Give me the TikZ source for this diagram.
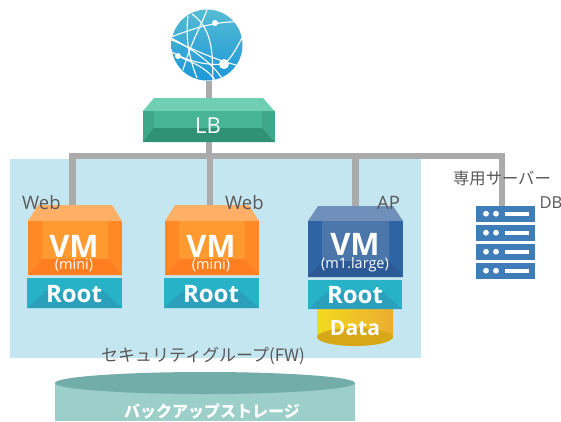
\documentclass[tikz,border=0pt]{standalone}
\usepackage{fontspec}
\setmainfont{Noto Sans CJK JP}
\newfontfamily\lat{Open Sans}
\usetikzlibrary{calc}
\definecolor{regionblue}{HTML}{C4E6F0}
\definecolor{linkgrey}{HTML}{ABABAB}
\definecolor{labelgrey}{HTML}{595757}
\definecolor{rootmain}{HTML}{27B2C8}
\definecolor{rootdark}{HTML}{2BA0BC}
\definecolor{orangetop}{HTML}{FFB066}
\definecolor{orangeside}{HTML}{FF8A25}
\definecolor{orangeinner}{HTML}{FF9A30}
\definecolor{orangelow}{HTML}{FF7F20}
\definecolor{bluetop}{HTML}{6F90BB}
\definecolor{blueside}{HTML}{2E64A3}
\definecolor{blueinner}{HTML}{4B76AA}
\definecolor{bluelow}{HTML}{2D5A96}
\definecolor{backupbody}{HTML}{9CCFC9}
\definecolor{backuptop}{HTML}{72ADA9}
\definecolor{lbtop}{HTML}{6FCFB3}
\definecolor{lbside}{HTML}{3FA88A}
\definecolor{lbinner}{HTML}{48B596}
\definecolor{lblow}{HTML}{2F9373}
\definecolor{serverblue}{HTML}{3F7DB9}
\definecolor{datal}{HTML}{F3DA1E}
\definecolor{datar}{HTML}{ECAC30}
\definecolor{datab}{HTML}{D6A818}
\definecolor{globet}{HTML}{56BCD4}
\definecolor{globeb}{HTML}{1C98D8}
\pgfdeclarelayer{base}
\pgfdeclarelayer{links}
\pgfsetlayers{base,links,main}
\tikzset{
  link/.style={draw=linkgrey,line width=6.5pt},
  label/.style={text=labelgrey,font=\fontsize{16.3}{16.3}\selectfont,inner sep=0pt},
  latlabel/.style={text=labelgrey,font=\lat\fontsize{18.5}{18.5}\selectfont,inner sep=0pt,anchor=west},
  bigtext/.style={text=white,inner sep=0pt,font=\lat\bfseries\fontsize{31}{31}\selectfont},
  roottext/.style={text=white,inner sep=0pt,font=\lat\bfseries\fontsize{24}{24}\selectfont},
  subtext/.style={text=white,inner sep=0pt,font=\lat\fontsize{14.5}{14.5}\selectfont},
  globeline/.style={draw=white,line width=1.1pt},
}
\newcommand\vmshape[9]{% x0, x1, ytop, ybody, ybottom, top, side, inner, lower
  \fill[#6] ({#1+10},#3) -- ({#2-10},#3) -- (#2,#4) -- (#1,#4) -- cycle;
  \fill[#7] (#1,#4) rectangle (#2,#5);
  \fill[#8] ({#1+14},#4) rectangle ({#2-14},{#5-16});
  \fill[#9] (#1,#5) -- ({#1+14},{#5-16}) -- ({#2-14},{#5-16}) -- (#2,#5) -- cycle;
}
\newcommand\rootshape[4]{% x0, x1, ytop, ybottom
  \fill[rootmain] (#1,#3) rectangle (#2,#4);
  \fill[rootdark] (#1,#4) -- ({#1+19},{#4-17}) -- ({#2-19},{#4-17}) -- (#2,#4) -- cycle;
}
\begin{document}
\begin{tikzpicture}[x=1pt,y=-1pt]
\useasboundingbox (0,0) rectangle (561,421);
\clip (0,0) rectangle (561,421);
\begin{pgfonlayer}{base}
\fill[white] (0,0) rectangle (561,421);
\fill[regionblue] (10,159) rectangle (421,358);
\end{pgfonlayer}

% backup storage
\fill[backupbody] (55,383) rectangle (355,421);
\fill[backuptop] (205,383) ellipse [x radius=150,y radius=11];
\node[inner sep=0pt,text=white,font=\bfseries\fontsize{16}{16}\selectfont] (backup) at (212,411) {バックアップストレージ};

% globe
\begin{scope}
\clip (207,45) circle (35.5);
\shade[top color=globet,bottom color=globeb] (171,9) rectangle (243,81);
\draw[globeline] (171,37) .. controls (190,30) and (215,20) .. (245,22);
\draw[globeline] (171,38) .. controls (190,48) and (210,60) .. (224,81);
\draw[globeline] (172,52) .. controls (185,60) and (205,66) .. (224,64);
\draw[globeline] (224,64) .. controls (232,58) and (238,45) .. (243,36);
\draw[globeline] (183,70) .. controls (190,45) and (200,28) .. (207,10);
\draw[globeline] (188,16) .. controls (185,40) and (190,60) .. (197,78);
\draw[globeline] (192,14) .. controls (215,30) and (212,60) .. (213,80);
\draw[globeline] (172,40) .. controls (195,50) and (215,60) .. (240,66);
\draw[globeline] (178,56) .. controls (190,62) and (205,66) .. (215,80);
\fill[white] (215,23) circle (3);
\fill[white] (224,64) circle (5);
\fill[white] (178,56) circle (3);
\end{scope}
\node[circle,inner sep=0pt,minimum size=71pt] (globe) at (207,45) {};

% LB
\fill[lbtop] (154,98) -- (263,98) -- (274.5,111) -- (143,111) -- cycle;
\fill[lbside] (143,111) rectangle (274.5,142);
\fill[lbinner] (154,111) rectangle (262,128);
\fill[lblow] (143,142) -- (154,128) -- (262,128) -- (274.5,142) -- cycle;
\node[inner sep=0pt,minimum width=131.5pt,minimum height=44pt] (lb) at (208.75,120) {};
\node[text=white,inner sep=0pt,font=\lat\fontsize{22}{22}\selectfont] (lbtext) at (208,126) {LB};

% VMs
\vmshape{28}{122}{205}{221}{275}{orangetop}{orangeside}{orangeinner}{orangelow}
\rootshape{27}{122}{278}{308}
\node[inner sep=0pt,minimum width=94pt,minimum height=70pt] (vma) at (75,240) {};
\node[inner sep=0pt,minimum width=95pt,minimum height=30pt] (roota) at (74.5,293) {};
\node[bigtext] (vmatext) at (74,246) {VM};
\node[subtext] (vmasub) at (74,265) {(mini)};
\node[roottext] (rootatext) at (74,294) {Root};

\vmshape{165}{259}{205}{221}{275}{orangetop}{orangeside}{orangeinner}{orangelow}
\rootshape{164}{259}{278}{308}
\node[inner sep=0pt,minimum width=94pt,minimum height=70pt] (vmb) at (212,240) {};
\node[inner sep=0pt,minimum width=95pt,minimum height=30pt] (rootb) at (211.5,293) {};
\node[bigtext] (vmbtext) at (211,246) {VM};
\node[subtext] (vmbsub) at (211,265) {(mini)};
\node[roottext] (rootbtext) at (211,294) {Root};

% Data drum
\shade[left color=datal,right color=datar] (317,305) rectangle (393,337);
\fill[datab] (355,337) ellipse [x radius=38,y radius=9];
\node[inner sep=0pt,minimum width=76pt,minimum height=36pt] (datadrum) at (355,328) {};
\node[text=white,inner sep=0pt,font=\lat\bfseries\fontsize{21}{21}\selectfont] (datatext) at (355,328) {Data};

\vmshape{308}{403}{206}{221}{277}{bluetop}{blueside}{blueinner}{bluelow}
\rootshape{308}{402}{280}{309}
\node[inner sep=0pt,minimum width=95pt,minimum height=71pt] (vmc) at (355.5,241.5) {};
\node[inner sep=0pt,minimum width=94pt,minimum height=29pt] (rootc) at (355,294.5) {};
\node[bigtext] (vmctext) at (355,244) {VM};
\node[subtext] (vmcsub) at (355,265) {(m1.large)};
\node[roottext] (rootctext) at (355,295) {Root};

% server
\foreach \yt in {206,225,244,263}{
  \fill[serverblue] (476,\yt) rectangle (535,\yt+15.5);
  \fill[white] (486,\yt+7.7) circle (2.9);
  \fill[white] (496,\yt+7.7) circle (2.9);
  \fill[white] (505,\yt+5.7) rectangle (529,\yt+9.7);
}
\node[inner sep=0pt,minimum width=59pt,minimum height=72pt] (server) at (505.5,242) {};

% junctions
\coordinate (trunkl) at (72.5,156);
\coordinate (trunkr) at (502,156);
\coordinate (juncb) at (210,156);
\coordinate (juncc) at (355.5,156);
\coordinate (lbjunc) at (209,156);

\begin{pgfonlayer}{links}
\draw[link] (globe.south -| lbjunc) -- (lb.north -| lbjunc);
\draw[link] (lb.south -| lbjunc) -- (lbjunc);
\draw[link,line cap=rect] (trunkl) -- (trunkr);
\draw[link] (trunkl) -- (vma.north -| trunkl);
\draw[link] (juncb) -- (vmb.north -| juncb);
\draw[link] (juncc) -- (vmc.north -| juncc);
\draw[link] (trunkr) -- (server.north -| trunkr);
\end{pgfonlayer}

% labels
\node[latlabel] (weba) at (22,203) {Web};
\node[latlabel] (webb) at (225,203) {Web};
\node[latlabel] (ap) at (377,203) {AP};
\node[latlabel,font=\lat\fontsize{16.5}{16.5}\selectfont] (db) at (539.5,203) {DB};
\node[label] (dedicated) at (502,178) {専用サーバー};
\node[label,font=\fontsize{17}{17}\selectfont] (fw) at (203,356) {セキュリティグループ(FW)};
\end{tikzpicture}
\end{document}
